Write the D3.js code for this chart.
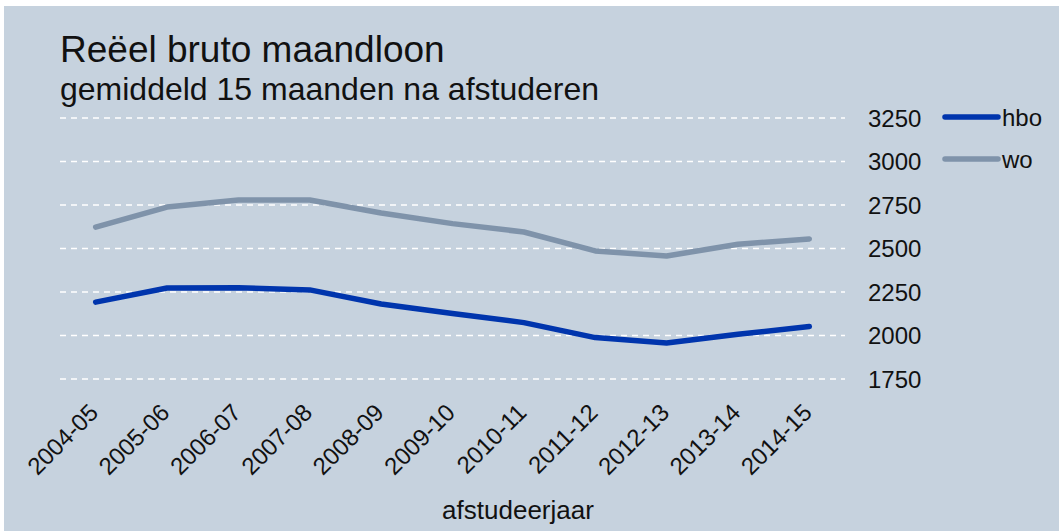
<!DOCTYPE html>
<html>
<head>
<meta charset="utf-8">
<script src="https://cdn.jsdelivr.net/npm/d3@7"></script>
<style>
  body { margin: 0; background: #fff; }
  text { font-family: "Liberation Sans", Arial, sans-serif; }
</style>
</head>
<body>
<div id="vis"></div>
<script>
// data
const jaren = ["2004-05","2005-06","2006-07","2007-08","2008-09","2009-10","2010-11","2011-12","2012-13","2013-14","2014-15"];
const hbo = [2192, 2273, 2275, 2262, 2181, 2127, 2074, 1988, 1957, 2007, 2052];
const wo  = [2623, 2738, 2779, 2779, 2704, 2643, 2595, 2486, 2457, 2524, 2555];
const yTicks = [1750, 2000, 2250, 2500, 2750, 3000, 3250];
const series = [
  {name: "hbo", values: hbo, color: "#0035ad"},
  {name: "wo",  values: wo,  color: "#7f93aa"}
];

const width = 1059, height = 531;

const svg = d3.select("#vis").append("svg")
  .attr("width", width)
  .attr("height", height);

// panel background
svg.append("rect")
  .attr("x", 4).attr("y", 6)
  .attr("width", width - 4).attr("height", height - 6)
  .attr("fill", "#c6d2de");

const plot = {left: 60, right: 845};

const x = d3.scalePoint()
  .domain(jaren)
  .range([plot.left, plot.right])
  .padding(0.5);

const y = d3.scaleLinear()
  .domain([1750, 3250])
  .range([379, 118]);

// gridlines
svg.append("g").selectAll("line")
  .data(yTicks)
  .join("line")
  .attr("x1", plot.left).attr("x2", plot.right)
  .attr("y1", d => y(d)).attr("y2", d => y(d))
  .attr("stroke", "#fff")
  .attr("stroke-width", 1.6)
  .attr("stroke-dasharray", "6,5");

// y axis labels on the right
svg.append("g").selectAll("text")
  .data(yTicks)
  .join("text")
  .attr("x", 868)
  .attr("y", d => y(d))
  .attr("dy", "0.36em")
  .attr("font-size", 24)
  .attr("fill", "#111")
  .text(d => d);

// x axis labels rotated
svg.append("g").selectAll("text")
  .data(jaren)
  .join("text")
  .attr("transform", d => `translate(${x(d) + 4},${414}) rotate(-45)`)
  .attr("text-anchor", "end")
  .attr("font-size", 24)
  .attr("fill", "#111")
  .text(d => d);

svg.append("text")
  .attr("x", 518)
  .attr("y", 519)
  .attr("text-anchor", "middle")
  .attr("font-size", 26)
  .attr("fill", "#111")
  .text("afstudeerjaar");

// lines
const line = d3.line()
  .x((d, i) => x(jaren[i]))
  .y(d => y(d));

svg.append("g").selectAll("path")
  .data(series)
  .join("path")
  .attr("d", d => line(d.values))
  .attr("fill", "none")
  .attr("stroke", d => d.color)
  .attr("stroke-width", 5.5)
  .attr("stroke-linecap", "round")
  .attr("stroke-linejoin", "round");

// legend
const leg = svg.append("g").selectAll("g")
  .data(series)
  .join("g")
  .attr("transform", (d, i) => `translate(945,${117 + i * 42})`);
leg.append("line")
  .attr("x1", 0).attr("x2", 53)
  .attr("stroke", d => d.color)
  .attr("stroke-width", 5.5)
  .attr("stroke-linecap", "round");
leg.append("text")
  .attr("x", 57)
  .attr("dy", "0.36em")
  .attr("font-size", 24)
  .attr("fill", "#111")
  .text(d => d.name);

// titles
svg.append("text")
  .attr("x", 60).attr("y", 62)
  .attr("font-size", 37)
  .attr("fill", "#111")
  .text("Reëel bruto maandloon");
svg.append("text")
  .attr("x", 60).attr("y", 100)
  .attr("font-size", 32)
  .attr("fill", "#111")
  .text("gemiddeld 15 maanden na afstuderen");
</script>
</body>
</html>
